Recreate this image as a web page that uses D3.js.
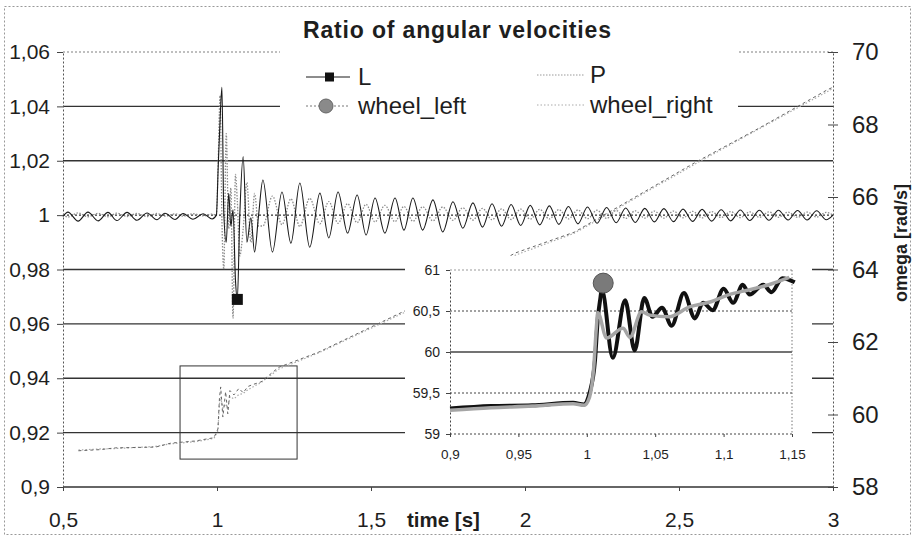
<!DOCTYPE html>
<head>
<meta charset="utf-8">
<script src="https://d3js.org/d3.v7.min.js"></script>
<style>
    body { margin: 0; background: #fff; }
    svg { font-family: "Liberation Sans", Arial, sans-serif; }
    .axis text { fill: #1e1e1e; }
</style>
</head>
<body>
<div id="chart-container"></div>
</body>
<script>
// ratio of angular velocities (left axis)
var ratioTime = [0.500,0.516,0.549,0.581,0.614,0.646,0.675,0.708,0.740,0.773,0.805,0.831,0.864,0.890,0.922,0.955,0.984,
    0.998,1.004,1.010,1.016,1.022,1.030,1.038,1.045,1.052,1.060,1.066,1.074,1.085,1.097,1.110,1.122,1.135,
    1.149,1.180,1.211,1.240,1.269,1.301,1.334,1.363,1.393,1.424,1.455,1.484,1.513,1.545,1.578,1.607,1.636,1.668,
    1.701,1.733,1.766,1.798,1.831,1.862,1.893,1.924,1.955,1.986,2.017,2.048,2.079,2.110,2.141,2.172,2.203,2.234,
    2.265,2.296,2.327,2.358,2.389,2.420,2.451,2.482,2.513,2.544,2.575,2.606,2.637,2.668,2.699,2.730,2.761,2.792,
    2.823,2.854,2.885,2.916,2.947,2.978,3.000];
var ratioL = [0.9995,1.0011,0.9978,1.0011,0.9979,1.0010,0.9980,1.0010,0.9981,1.0008,0.9983,1.0007,0.9984,1.0006,0.9985,1.0005,0.9986,
    1.0000,1.0180,1.0350,1.0470,1.0010,0.9900,1.0080,0.9960,1.0020,0.9760,0.9690,1.0000,1.0215,0.9900,0.9990,0.9864,1.0000,
    1.0129,0.9864,1.0085,0.9897,1.0118,0.9882,1.0081,0.9916,1.0085,0.9934,1.0074,0.9927,1.0063,0.9934,1.0063,0.9945,1.0063,0.9945,
    1.0056,0.9938,1.0049,0.9952,1.0045,0.9956,1.0042,0.9959,1.0039,0.9962,1.0036,0.9964,1.0034,0.9966,1.0032,0.9968,1.0030,0.9970,
    1.0028,0.9972,1.0026,0.9973,1.0025,0.9975,1.0024,0.9976,1.0022,0.9977,1.0021,0.9978,1.0020,0.9979,1.0019,0.9980,1.0018,0.9981,
    1.0018,0.9982,1.0017,0.9982,1.0016,0.9983,1.0000];
var ratioP = [1.0003,0.9993,1.0008,0.9994,1.0007,0.9994,1.0007,0.9995,1.0006,0.9995,1.0006,0.9996,1.0005,0.9996,1.0005,0.9997,1.0004,
    1.0000,1.0200,1.0440,0.9980,0.9800,1.0300,0.9950,1.0100,0.9620,1.0150,1.0050,0.9850,0.9950,1.0120,0.9900,1.0080,0.9960,
    0.9960,1.0070,0.9965,1.0060,0.9958,1.0062,0.9968,1.0050,0.9970,1.0042,0.9972,1.0040,0.9975,1.0036,0.9976,1.0032,0.9977,1.0031,
    0.9979,1.0030,0.9981,1.0027,0.9982,1.0025,0.9983,1.0023,0.9984,1.0022,0.9985,1.0021,0.9986,1.0020,0.9986,1.0019,0.9987,1.0018,
    0.9988,1.0017,0.9988,1.0016,0.9989,1.0015,0.9989,1.0015,0.9990,1.0014,0.9990,1.0013,0.9991,1.0013,0.9991,1.0012,0.9992,1.0012,
    0.9992,1.0011,0.9992,1.0011,0.9993,1.0010,1.0000];
var markerL = [1.066, 0.969];

// wheel speeds omega [rad/s] (right axis)
var wheelTime = [0.55,0.62,0.67,0.80,0.85,0.93,0.99,1.003,1.008,1.012,1.019,1.028,1.035,1.042,1.055,1.071,1.085,1.10,1.114,1.143,
    1.20,1.33,1.63,1.97,2.16,2.55,2.76,2.98,3.00];
var wheelLeft = [59.00,59.03,59.08,59.10,59.21,59.27,59.36,59.60,60.45,60.76,59.93,60.63,60.02,60.66,60.54,60.72,60.60,60.77,60.82,60.90,
    61.30,61.72,62.94,64.46,65.03,66.94,67.90,68.95,69.03];
var wheelRight = [59.02,59.05,59.06,59.12,59.19,59.25,59.34,59.55,60.30,60.48,60.17,60.29,60.18,60.49,60.43,60.55,60.58,60.68,60.75,60.88,
    61.25,61.70,62.90,64.40,65.00,66.90,67.88,68.90,69.00];
var zoomBoxT = [0.88, 1.26];
var zoomBoxW = [58.77, 61.34];

// inset (zoom on the step)
var insetTimeL = [0.900,0.930,0.960,0.990,0.998,1.002,1.006,1.008,1.0097,1.011,1.019,1.028,1.035,1.042,1.048,1.055,1.062,1.071,1.079,1.085,
    1.092,1.100,1.107,1.114,1.119,1.129,1.135,1.143,1.152];
var insetLeft = [59.31,59.34,59.35,59.38,59.36,59.50,59.90,60.40,60.63,60.76,59.93,60.63,60.02,60.66,60.43,60.54,60.32,60.72,60.41,60.60,
    60.51,60.77,60.60,60.82,60.70,60.82,60.73,60.90,60.85];
var insetTimeR = [0.900,0.930,0.960,0.990,0.998,1.002,1.005,1.007,1.008,1.0145,1.0265,1.0315,1.040,1.046,1.060,1.075,1.090,1.104,1.119,1.133,1.148];
var insetRight = [59.29,59.32,59.34,59.37,59.35,59.45,59.80,60.30,60.48,60.17,60.29,60.18,60.49,60.45,60.43,60.55,60.61,60.70,60.76,60.82,60.91];
var insetMarker = [1.012, 60.84];

// ticks
var xTicks = [0.5, 1, 1.5, 2, 2.5, 3];
var xTickLabels = ["0,5", "1", "1,5", "2", "2,5", "3"];
var yLeftTicks = [0.9, 0.92, 0.94, 0.96, 0.98, 1, 1.02, 1.04, 1.06];
var yLeftLabels = ["0,9", "0,92", "0,94", "0,96", "0,98", "1", "1,02", "1,04", "1,06"];
var yRightTicks = [58, 60, 62, 64, 66, 68, 70];
var insetXTicks = [0.9, 0.95, 1, 1.05, 1.1, 1.15];
var insetXLabels = ["0,9", "0,95", "1", "1,05", "1,1", "1,15"];
var insetYTicks = [59, 59.5, 60, 60.5, 61];
var insetYLabels = ["59", "59,5", "60", "60,5", "61"];

var width = 912, height = 538;
var margin = {top: 52, right: 79, bottom: 51, left: 63};

var svg = d3.select("#chart-container").append("svg")
    .attr("width", width)
    .attr("height", height);

var x = d3.scaleLinear().domain([0.5, 3]).range([margin.left, width - margin.right]);
var yL = d3.scaleLinear().domain([0.9, 1.06]).range([height - margin.bottom, margin.top]);
var yR = d3.scaleLinear().domain([58, 70]).range([height - margin.bottom, margin.top]);

// outer frame
svg.append("rect")
    .attr("x", 4.5).attr("y", 6.5).attr("width", 906).attr("height", 528)
    .attr("fill", "none").attr("stroke", "#999").attr("stroke-dasharray", "2,2");

// grid
svg.append("g").selectAll("line")
    .data(yLeftTicks)
    .join("line")
    .attr("x1", x(0.5)).attr("x2", x(3))
    .attr("y1", function(d) { return yL(d); })
    .attr("y2", function(d) { return yL(d); })
    .attr("stroke", function(d) { return d === 1.06 ? "#aaa" : "#333"; })
    .attr("stroke-width", 1.3)
    .attr("stroke-dasharray", function(d) { return (d === 1.06 || d === 1) ? "2,2" : null; });

// axes
svg.append("g")
    .attr("class", "axis")
    .attr("transform", "translate(" + margin.left + ",0)")
    .call(d3.axisLeft(yL).tickValues(yLeftTicks).tickFormat(function(d, i) { return yLeftLabels[i]; })
        .tickSize(6).tickSizeOuter(0).tickPadding(7))
    .attr("font-size", 21).attr("font-family", null)
    .call(function(g) { g.select(".domain").attr("stroke", "#555").attr("stroke-dasharray", "2,2"); })
    .call(function(g) { g.selectAll(".tick line").attr("stroke", "#444"); });

svg.append("g")
    .attr("class", "axis")
    .attr("transform", "translate(" + x(3) + ",0)")
    .call(d3.axisRight(yR).tickValues(yRightTicks).tickSize(5).tickSizeOuter(0).tickPadding(14))
    .attr("font-size", 24).attr("font-family", null)
    .call(function(g) { g.select(".domain").attr("stroke", "#555").attr("stroke-dasharray", "2,2"); })
    .call(function(g) {
        g.selectAll(".tick line").attr("stroke", "#444");
        g.selectAll(".tick").append("line").attr("x1", -5).attr("x2", 0).attr("stroke", "#444");
    });

svg.append("g")
    .attr("class", "axis")
    .attr("transform", "translate(0," + (height - margin.bottom) + ")")
    .call(d3.axisBottom(x).tickValues(xTicks).tickFormat(function(d, i) { return xTickLabels[i]; })
        .tickSize(4).tickSizeOuter(0).tickPadding(21))
    .attr("font-size", 21).attr("font-family", null)
    .call(function(g) { g.select(".domain").remove(); })
    .call(function(g) { g.selectAll(".tick line").attr("stroke", "#444"); });

// zoom box
svg.append("rect")
    .attr("x", x(zoomBoxT[0]))
    .attr("y", yR(zoomBoxW[1]))
    .attr("width", x(zoomBoxT[1]) - x(zoomBoxT[0]))
    .attr("height", yR(zoomBoxW[0]) - yR(zoomBoxW[1]))
    .attr("fill", "none").attr("stroke", "#333").attr("stroke-width", 1);

// wheel speeds
var wheelLine = function(vals) {
    return d3.line()
        .x(function(d, i) { return x(wheelTime[i]); })
        .y(function(d) { return yR(d); })(vals);
};
svg.append("path").attr("d", wheelLine(wheelRight))
    .attr("fill", "none").attr("stroke", "#aaa").attr("stroke-width", 1.2).attr("stroke-dasharray", "1.5,2");
svg.append("path").attr("d", wheelLine(wheelLeft))
    .attr("fill", "none").attr("stroke", "#666").attr("stroke-width", 1).attr("stroke-dasharray", "3,3");

// ratios
var ratioLine = d3.line()
    .x(function(d, i) { return x(ratioTime[i]); })
    .y(function(d) { return yL(d); })
    .curve(d3.curveMonotoneX);
svg.append("path").datum(ratioP).attr("d", ratioLine)
    .attr("fill", "none").attr("stroke", "#8c8c8c").attr("stroke-width", 1.3).attr("stroke-dasharray", "1.5,1.5");
svg.append("path").datum(ratioL).attr("d", ratioLine)
    .attr("fill", "none").attr("stroke", "#1a1a1a").attr("stroke-width", 1.1);
svg.append("rect")
    .attr("x", x(markerL[0]) - 5.5).attr("y", yL(markerL[1]) - 5.5)
    .attr("width", 11).attr("height", 11).attr("fill", "#111");

// title + legend
svg.append("rect").attr("x", 280).attr("y", 40).attr("width", 458).attr("height", 82).attr("fill", "#fff");
svg.append("text")
    .attr("x", 303).attr("y", 38)
    .attr("font-size", 23).attr("font-weight", "bold").attr("fill", "#1e1e1e")
    .attr("textLength", 308).attr("lengthAdjust", "spacing")
    .text("Ratio of angular velocities");

var legend = svg.append("g").attr("font-size", 24).attr("fill", "#1e1e1e");
legend.append("line").attr("x1", 306).attr("x2", 350).attr("y1", 77).attr("y2", 77).attr("stroke", "#1a1a1a");
legend.append("rect").attr("x", 325).attr("y", 72.5).attr("width", 9).attr("height", 9).attr("fill", "#111");
legend.append("text").attr("x", 358).attr("y", 77).attr("dy", "0.35em").text("L");
legend.append("line").attr("x1", 306).attr("x2", 350).attr("y1", 106).attr("y2", 106)
    .attr("stroke", "#777").attr("stroke-dasharray", "2,2");
legend.append("circle").attr("cx", 326).attr("cy", 106).attr("r", 7).attr("fill", "#8a8a8a").attr("stroke", "#666");
legend.append("text").attr("x", 358).attr("y", 106).attr("dy", "0.35em").text("wheel_left");
legend.append("line").attr("x1", 537).attr("x2", 584).attr("y1", 75).attr("y2", 75)
    .attr("stroke", "#999").attr("stroke-dasharray", "1.5,1.5");
legend.append("text").attr("x", 590).attr("y", 75).attr("dy", "0.35em").text("P");
legend.append("line").attr("x1", 537).attr("x2", 584).attr("y1", 105).attr("y2", 105)
    .attr("stroke", "#aaa").attr("stroke-dasharray", "1.5,2");
legend.append("text").attr("x", 590).attr("y", 105).attr("dy", "0.35em").text("wheel_right");

// axis titles
svg.append("text")
    .attr("x", 407).attr("y", 527)
    .attr("font-size", 20.5).attr("font-weight", "bold").attr("fill", "#1e1e1e")
    .text("time [s]");
svg.append("text")
    .attr("transform", "translate(907,243) rotate(-90)")
    .attr("text-anchor", "middle")
    .attr("font-size", 18).attr("font-weight", "bold").attr("fill", "#1e1e1e")
    .text("omega [rad/s]");

// inset chart
var xi = d3.scaleLinear().domain([0.9, 1.15]).range([450, 792]);
var yi = d3.scaleLinear().domain([59, 61]).range([434, 270]);
var inset = svg.append("g");
inset.append("rect").attr("x", 405).attr("y", 256).attr("width", 407).attr("height", 214).attr("fill", "#fff");

inset.append("g").selectAll("line")
    .data(insetYTicks)
    .join("line")
    .attr("x1", xi(0.9)).attr("x2", xi(1.15))
    .attr("y1", function(d) { return yi(d); })
    .attr("y2", function(d) { return yi(d); })
    .attr("stroke", function(d) { return d === 61 ? "#999" : "#444"; })
    .attr("stroke-width", function(d) { return d === 60 ? 1.3 : 1; })
    .attr("stroke-dasharray", function(d) { return d === 60 ? null : "2,2"; });
inset.append("line")
    .attr("x1", xi(1.15)).attr("x2", xi(1.15)).attr("y1", yi(61)).attr("y2", yi(59))
    .attr("stroke", "#777").attr("stroke-dasharray", "1.5,2");

inset.append("g")
    .attr("class", "axis")
    .attr("transform", "translate(" + xi(0.9) + ",0)")
    .call(d3.axisLeft(yi).tickValues(insetYTicks).tickFormat(function(d, i) { return insetYLabels[i]; })
        .tickSize(4).tickSizeOuter(0).tickPadding(6))
    .attr("font-size", 14).attr("font-family", null)
    .call(function(g) { g.select(".domain").attr("stroke", "#444").attr("stroke-dasharray", "2,2"); })
    .call(function(g) { g.selectAll(".tick line").attr("stroke", "#444"); });

inset.append("g")
    .attr("class", "axis")
    .attr("transform", "translate(0," + yi(59) + ")")
    .call(d3.axisBottom(xi).tickValues(insetXTicks).tickFormat(function(d, i) { return insetXLabels[i]; })
        .tickSize(3).tickSizeOuter(0).tickPadding(12))
    .attr("font-size", 13.5).attr("font-family", null)
    .call(function(g) { g.select(".domain").remove(); })
    .call(function(g) { g.selectAll(".tick line").attr("stroke", "#444"); });

inset.append("path")
    .datum(insetLeft)
    .attr("d", d3.line().x(function(d, i) { return xi(insetTimeL[i]); }).y(function(d) { return yi(d); })
        .curve(d3.curveMonotoneX))
    .attr("fill", "none").attr("stroke", "#111").attr("stroke-width", 4).attr("stroke-linejoin", "round");
inset.append("path")
    .datum(insetRight)
    .attr("d", d3.line().x(function(d, i) { return xi(insetTimeR[i]); }).y(function(d) { return yi(d); })
        .curve(d3.curveMonotoneX))
    .attr("fill", "none").attr("stroke", "#a5a5a5").attr("stroke-width", 3.5).attr("stroke-linejoin", "round");
inset.append("circle")
    .attr("cx", xi(insetMarker[0])).attr("cy", yi(insetMarker[1])).attr("r", 10)
    .attr("fill", "#7a7a7a").attr("stroke", "#555");
</script>
